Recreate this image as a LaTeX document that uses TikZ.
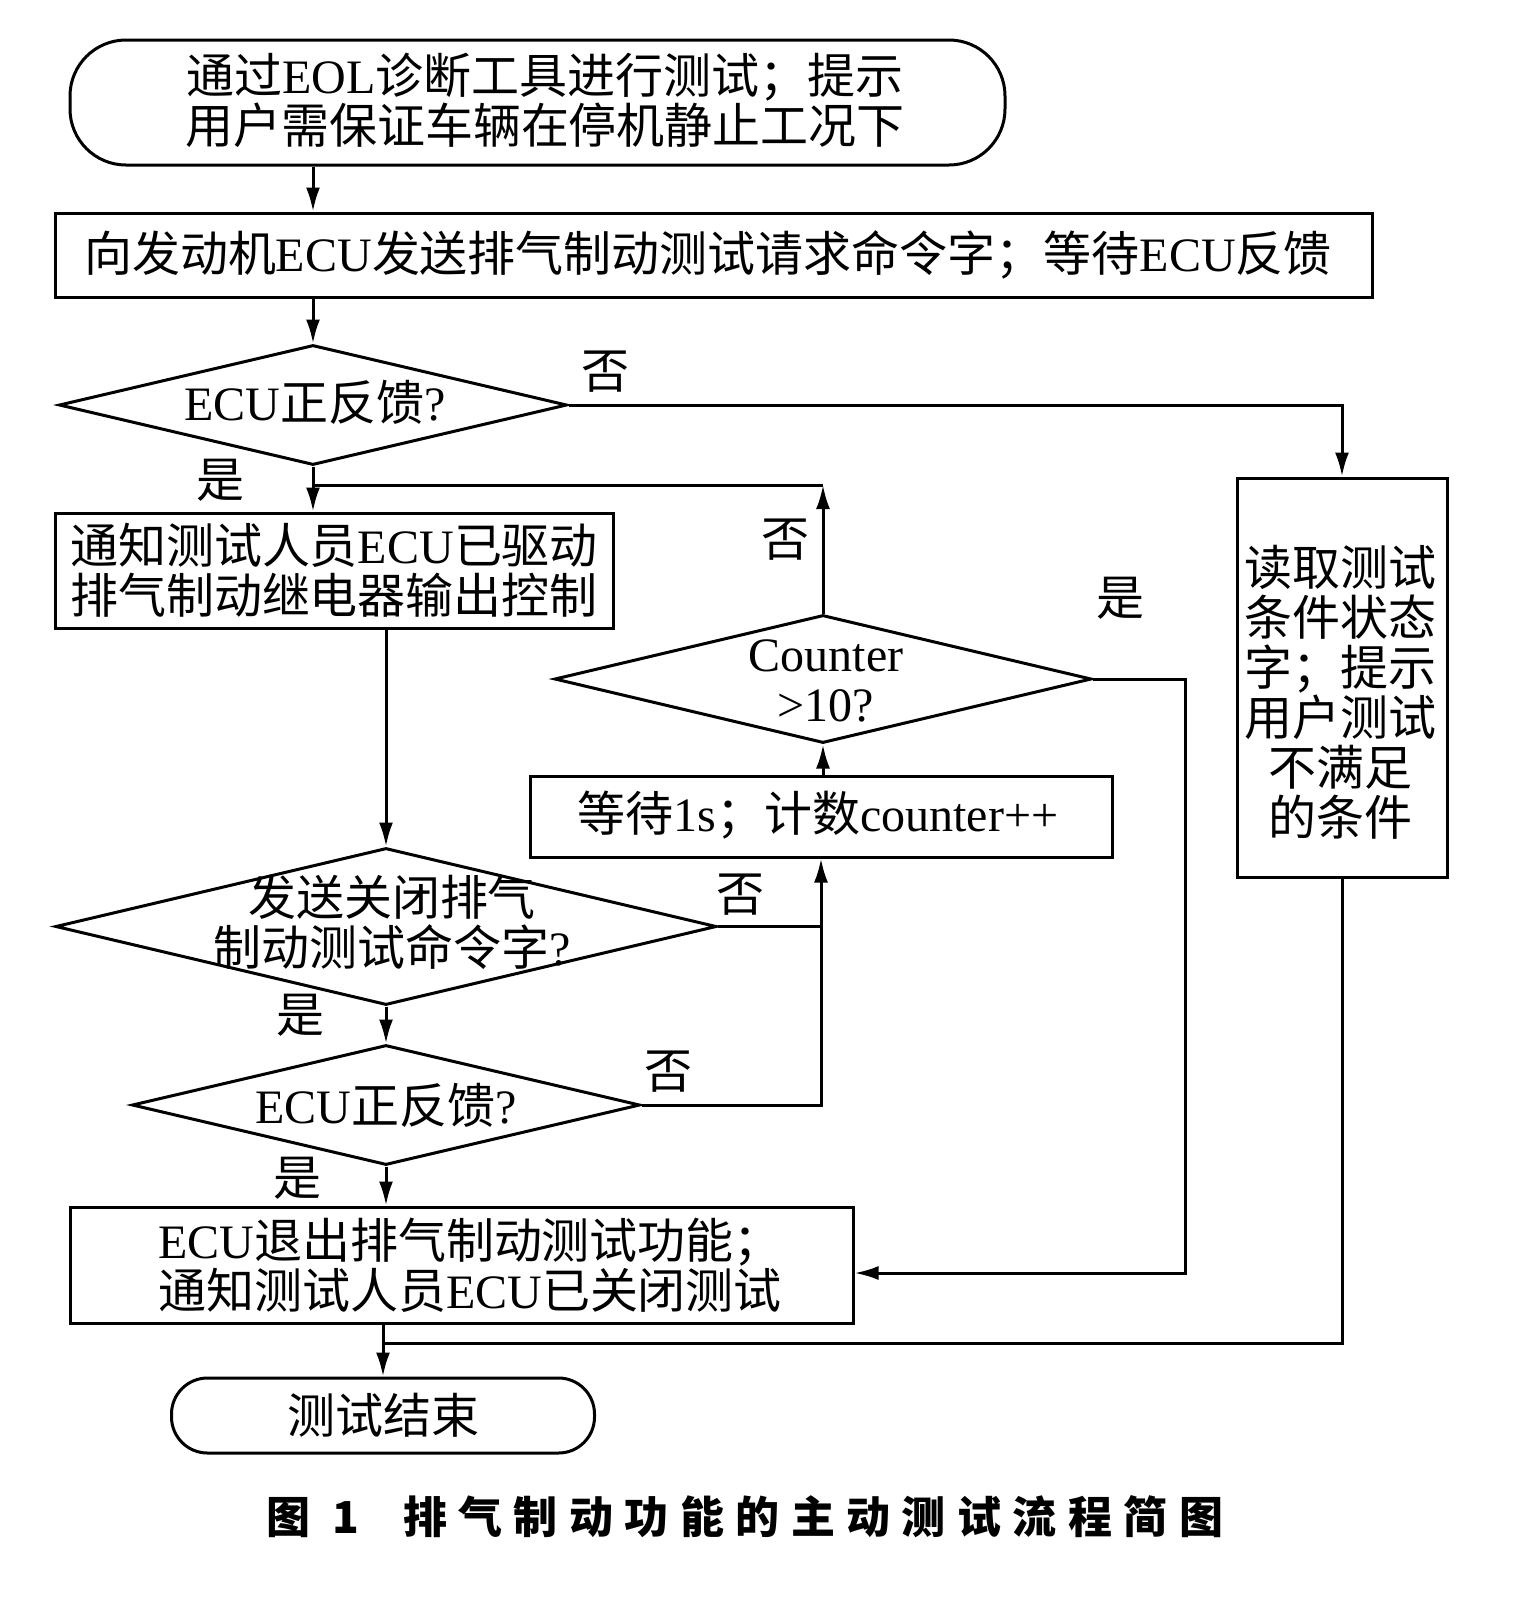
\documentclass[tikz,border=0pt]{standalone}
\usepackage{fontspec}
\setmainfont{Noto Sans CJK SC}
\newfontfamily\latf{Liberation Serif}
\newfontfamily\capf[LetterSpace=26]{Noto Sans CJK SC}
\newcommand\latn[1]{{\latf #1}}
\usetikzlibrary{shapes.geometric,arrows.meta}
\tikzset{
  ln/.style={line width=1.5pt},
  arr/.style={line width=1.5pt,-{Latex[length=12pt,width=7pt]}},
  box/.style={draw,line width=1.5pt,inner sep=0pt},
  term/.style={draw,line width=1.5pt,inner sep=0pt,rounded corners=28pt},
  dia/.style={draw,diamond,line width=1.5pt,inner sep=0pt},
  txt/.style={font=\fontsize{24pt}{25pt}\selectfont,align=center,inner sep=0pt},
  lbl/.style={font=\fontsize{24pt}{25pt}\selectfont,inner sep=0pt},
}
\begin{document}
\begin{tikzpicture}[x=0.5pt,y=-0.5pt]
\useasboundingbox[fill=white] (0,0) rectangle (1525,1608);
% nodes
\node[term,minimum width=467.5pt,minimum height=62.5pt] (start) at (537.5,102.5) {};
\node[txt] (startt) at (545,100) {通过\latn{EOL}诊断工具进行测试；提示\\用户需保证车辆在停机静止工况下};
\node[box,minimum width=658.5pt,minimum height=42pt] (b2) at (713.5,255) {};
\node[txt] (b2t) at (708,255) {向发动机\latn{ECU}发送排气制动测试请求命令字；等待\latn{ECU}反馈};
\node[dia,minimum width=254pt,minimum height=60pt] (d1) at (313,405) {};
\node[txt] (d1t) at (315,402) {\latn{ECU}正反馈\latn{?}};
\node[box,minimum width=279pt,minimum height=57.5pt] (b3) at (334,570.5) {};
\node[txt] (b3t) at (334,570) {通知测试人员\latn{ECU}已驱动\\排气制动继电器输出控制};
\node[dia,minimum width=268.5pt,minimum height=64pt] (dc) at (823,679) {};
\node[txt] (dct) at (826,681) {\latn{Counter}\\\latn{>10?}};
\node[box,minimum width=291pt,minimum height=40.5pt] (b4) at (821,816.5) {};
\node[txt] (b4t) at (818,815) {等待\latn{1s}；计数\latn{counter++}};
\node[dia,minimum width=330.5pt,minimum height=78.5pt] (d2) at (386,926.5) {};
\node[txt] (d2t) at (392,922) {发送关闭排气\\制动测试命令字\latn{?}};
\node[dia,minimum width=254pt,minimum height=60pt] (d3) at (386,1105) {};
\node[txt] (d3t) at (386,1105) {\latn{ECU}正反馈\latn{?}};
\node[box,minimum width=391.5pt,minimum height=58pt] (b6) at (461.5,1265) {};
\node[txt,align=left] (b6t) at (470,1265) {\latn{ECU}退出排气制动测试功能；\\通知测试人员\latn{ECU}已关闭测试};
\node[box,minimum width=105pt,minimum height=199.5pt] (bR) at (1342,677.5) {};
\node[txt] (bRt) at (1340,692) {读取测试\\条件状态\\字；提示\\用户测试\\不满足\\的条件};
\node[term,rounded corners=18pt,minimum width=211.5pt,minimum height=37.5pt] (endn) at (383,1415.5) {};
\node[txt] (endt) at (383,1415) {测试结束};
% labels
\node[lbl] (l1) at (605,372) {否};
\node[lbl] (l2) at (220,480) {是};
\node[lbl] (l3) at (785,540) {否};
\node[lbl] (l4) at (1120,598) {是};
\node[lbl] (l5) at (740,895) {否};
\node[lbl] (l6) at (300,1015) {是};
\node[lbl] (l7) at (668,1072) {否};
\node[lbl] (l8) at (297,1178) {是};
% coordinates
\coordinate (lp) at (823,485);
\coordinate (cy) at (1185,1273);
\coordinate (m) at (383,1343);
% connectors
\draw[arr] (start.south -| d1.north) -- (b2.north -| d1.north);
\draw[arr] (b2.south -| d1.north) -- (d1.north);
\draw[arr] (d1.east) -| (bR.north);
\draw[arr] (d1.south) -- (b3.north -| d1.south);
\draw[arr] (dc.north) -- (lp);
\draw[ln] (lp) -- (lp -| d1.south);
\draw[arr] (dc.east) -| (cy) -- (cy -| b6.east);
\draw[arr] (b4.north -| dc.south) -- (dc.south);
\draw[arr] (b3.south -| d2.north) -- (d2.north);
\draw[arr] (d2.east) -| (b4.south);
\draw[arr] (d2.south) -- (d3.north);
\draw[ln] (d3.east) -| (d2.east -| b4.south);
\draw[arr] (d3.south) -- (b6.north -| d3.south);
\draw[arr] (b6.south -| endn.north) -- (endn.north);
\draw[ln] (bR.south) |- (m);
% caption
\node[inner sep=0pt,font=\fontsize{22pt}{24pt}\capf\bfseries] (cap) at (745,1517) {图 1\hspace{22pt}排气制动功能的主动测试流程简图};
\end{tikzpicture}
\end{document}
